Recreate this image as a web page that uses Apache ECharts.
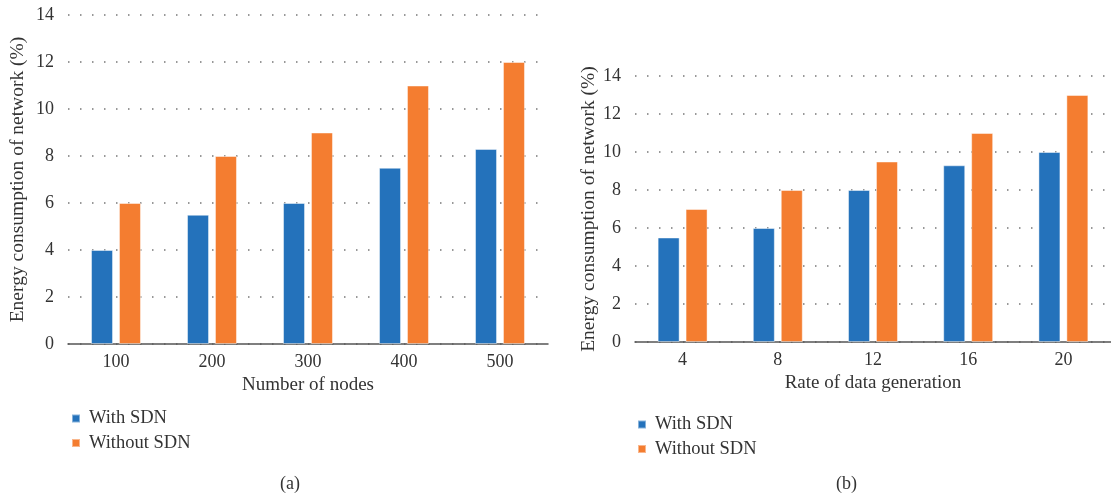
<!DOCTYPE html>
<html>
<head>
<meta charset="utf-8">
<script src="https://cdn.jsdelivr.net/npm/echarts@6/dist/echarts.min.js"></script>
<style>
html,body{margin:0;padding:0;background:#fff;}
#c{width:1111px;height:496px;}
</style>
</head>
<body>
<div id="c"></div>
<script>
const categoriesA = ['100', '200', '300', '400', '500'];
const withSdnA = [4, 5.5, 6, 7.5, 8.3];
const withoutSdnA = [6, 8, 9, 11, 12];

const categoriesB = ['4', '8', '12', '16', '20'];
const withSdnB = [5.5, 6, 8, 9.3, 10];
const withoutSdnB = [7, 8, 9.5, 11, 13];

const seriesNames = ['With SDN', 'Without SDN'];
const xNameA = 'Number of nodes';
const xNameB = 'Rate of data generation';
const yName = 'Energy consumption of network (%)';
const captions = ['(a)', '(b)'];

const FONT = '"Liberation Serif", "DejaVu Serif", serif';
const BLUE = '#2472bb';
const ORANGE = '#f47d30';
const TXT = '#333333';

const chart = echarts.init(document.getElementById('c'), null, {renderer: 'canvas'});

function xAxis(idx, cats, name, gap) {
  return {
    type: 'category', gridIndex: idx, data: cats,
    name: name, nameLocation: 'middle', nameGap: gap,
    nameTextStyle: {fontFamily: FONT, fontSize: 19, color: TXT},
    axisLine: {lineStyle: {color: '#555', width: 1.5}},
    axisTick: {show: false},
    axisLabel: {fontFamily: FONT, fontSize: 18, color: TXT, margin: 9}
  };
}
function yAxis(idx, gap) {
  return {
    type: 'value', gridIndex: idx, min: 0, max: 14, interval: 2,
    name: yName, nameLocation: 'middle', nameGap: gap,
    nameTextStyle: {fontFamily: FONT, fontSize: 19.5, color: TXT},
    axisLine: {show: false}, axisTick: {show: false},
    axisLabel: {fontFamily: FONT, fontSize: 18, color: TXT, margin: 14},
    splitLine: {lineStyle: {color: '#777', width: 1.5, type: [1.5, 10.5]}}
  };
}
function bar(name, data, color, xi, yi) {
  return {
    type: 'bar', name: name, data: data, xAxisIndex: xi, yAxisIndex: yi,
    barWidth: 22, barGap: '27%',
    itemStyle: {color: color, borderColor: 'rgba(255,255,255,0.45)', borderWidth: 1},
    emphasis: {disabled: true}, animation: false
  };
}
function legend(left, top) {
  return {
    orient: 'vertical', left: left, top: top, icon: 'rect',
    itemWidth: 8, itemHeight: 8, itemGap: 5.5,
    data: seriesNames,
    textStyle: {fontFamily: FONT, fontSize: 18.5, color: TXT, lineHeight: 18, padding: [0, 0, 0, 4]},
    selectedMode: false
  };
}

chart.setOption({
  animation: false,
  textStyle: {fontFamily: FONT},
  grid: [
    {left: 68, top: 15, width: 480, height: 329},
    {left: 635, top: 76, width: 481, height: 266}
  ],
  xAxis: [xAxis(0, categoriesA, xNameA, 26), xAxis(1, categoriesB, xNameB, 31)],
  yAxis: [yAxis(0, 40), yAxis(1, 36)],
  legend: [legend(66, 404), legend(632, 410)],
  series: [
    bar(seriesNames[0], withSdnA, BLUE, 0, 0),
    bar(seriesNames[1], withoutSdnA, ORANGE, 0, 0),
    bar(seriesNames[0], withSdnB, BLUE, 1, 1),
    bar(seriesNames[1], withoutSdnB, ORANGE, 1, 1)
  ],
  graphic: [
    {type: 'text', left: 280, top: 475, style: {text: captions[0], font: '18px ' + FONT, fill: TXT}},
    {type: 'text', left: 836, top: 475, style: {text: captions[1], font: '18px ' + FONT, fill: TXT}}
  ]
});
</script>
</body>
</html>
